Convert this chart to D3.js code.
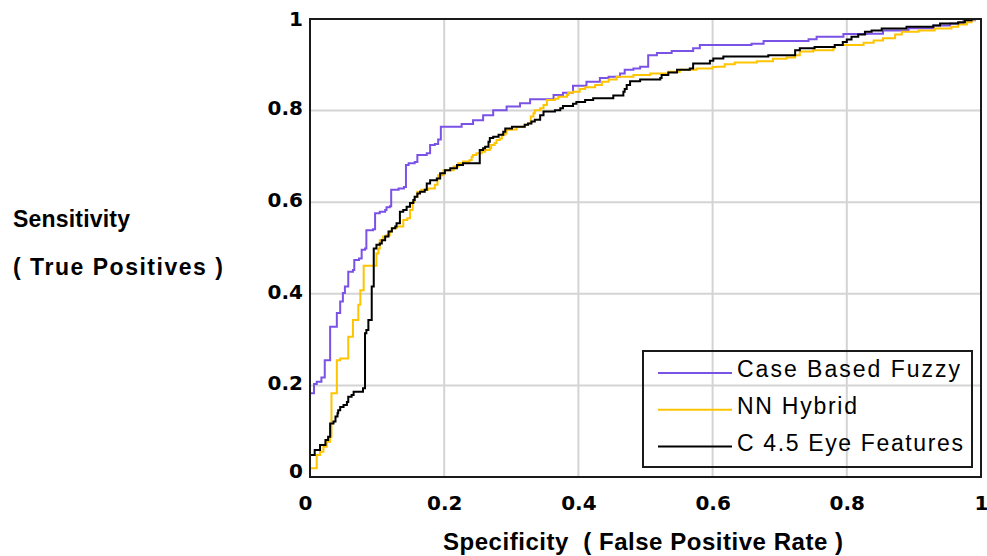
<!DOCTYPE html>
<html>
<head>
<meta charset="utf-8">
<script src="https://cdn.jsdelivr.net/npm/d3@7"></script>
<style>
  body { margin: 0; background: #fff; }
  .tick-label { font-family: 'DejaVu Sans', sans-serif; font-weight: bold; font-size: 20px; fill: #000; }
  .axis-title { font-family: 'Liberation Sans', Arial, sans-serif; font-weight: bold; fill: #000; white-space: pre; }
  .legend-text { font-family: 'Liberation Sans', Arial, sans-serif; font-size: 23px; fill: #000; }
</style>
</head>
<body>
<svg class="rocSvg"></svg>
<script>
// axis ticks
let ticks = [0, 0.2, 0.4, 0.6, 0.8, 1];
let tickLabels = ['0', '0.2', '0.4', '0.6', '0.8', '1'];

// series names, colours in legend order
let seriesNames = ['Case Based Fuzzy', 'NN Hybrid', 'C 4.5 Eye Features'];
let seriesColors = ['#7b52e6', '#ffc400', '#000000'];

// [false positive rate, true positive rate] at each step
let caseBasedFuzzy = [
  [0, 0.183], [0.006, 0.203], [0.01, 0.208], [0.017, 0.217], [0.022, 0.255],
  [0.03, 0.328], [0.04, 0.358], [0.045, 0.383], [0.049, 0.402], [0.052, 0.416],
  [0.057, 0.448], [0.064, 0.452], [0.066, 0.474], [0.073, 0.477], [0.077, 0.496],
  [0.082, 0.499], [0.084, 0.539], [0.094, 0.541], [0.097, 0.576], [0.104, 0.579],
  [0.112, 0.583], [0.114, 0.589], [0.119, 0.591], [0.121, 0.627], [0.132, 0.63],
  [0.14, 0.633], [0.143, 0.681], [0.147, 0.685], [0.156, 0.688], [0.16, 0.703],
  [0.174, 0.707], [0.179, 0.725], [0.186, 0.727], [0.191, 0.737], [0.195, 0.765],
  [0.226, 0.771], [0.243, 0.779], [0.258, 0.79], [0.273, 0.801], [0.293, 0.809],
  [0.313, 0.816], [0.328, 0.825], [0.363, 0.834], [0.377, 0.839], [0.392, 0.854],
  [0.412, 0.863], [0.432, 0.871], [0.445, 0.874], [0.462, 0.881], [0.469, 0.889],
  [0.482, 0.892], [0.492, 0.896], [0.504, 0.921], [0.517, 0.926], [0.539, 0.93],
  [0.571, 0.936], [0.581, 0.943], [0.658, 0.946], [0.676, 0.952], [0.743, 0.956],
  [0.755, 0.961], [0.795, 0.967], [0.83, 0.968], [0.854, 0.975], [0.892, 0.98],
  [0.929, 0.986], [0.954, 0.99], [0.974, 0.997], [0.991, 1], [1, 1]
];

let nnHybrid = [
  [0, 0.019], [0.01, 0.048], [0.015, 0.055], [0.02, 0.066], [0.025, 0.077],
  [0.03, 0.088], [0.032, 0.183], [0.04, 0.255], [0.045, 0.259], [0.057, 0.306],
  [0.064, 0.343], [0.072, 0.376], [0.075, 0.408], [0.08, 0.461], [0.099, 0.488],
  [0.102, 0.499], [0.104, 0.517], [0.109, 0.525], [0.114, 0.528], [0.119, 0.536],
  [0.122, 0.543], [0.129, 0.547], [0.139, 0.561], [0.145, 0.565], [0.149, 0.583],
  [0.153, 0.601], [0.156, 0.612], [0.16, 0.623], [0.166, 0.627], [0.176, 0.63],
  [0.186, 0.638], [0.19, 0.652], [0.191, 0.659], [0.199, 0.67], [0.214, 0.678],
  [0.221, 0.685], [0.228, 0.689], [0.238, 0.692], [0.241, 0.699], [0.243, 0.703],
  [0.248, 0.707], [0.256, 0.71], [0.261, 0.714], [0.268, 0.718], [0.27, 0.725],
  [0.275, 0.729], [0.278, 0.736], [0.283, 0.739], [0.286, 0.747], [0.291, 0.75],
  [0.293, 0.758], [0.301, 0.759], [0.308, 0.764], [0.315, 0.765], [0.32, 0.769],
  [0.325, 0.772], [0.329, 0.787], [0.333, 0.794], [0.335, 0.801], [0.343, 0.805],
  [0.348, 0.812], [0.353, 0.823], [0.365, 0.826], [0.37, 0.83], [0.383, 0.834],
  [0.385, 0.839], [0.392, 0.841], [0.402, 0.847], [0.41, 0.851], [0.425, 0.856],
  [0.435, 0.863], [0.445, 0.868], [0.457, 0.874], [0.482, 0.878], [0.507, 0.881],
  [0.534, 0.885], [0.551, 0.889], [0.576, 0.892], [0.6, 0.895], [0.606, 0.896],
  [0.618, 0.901], [0.633, 0.905], [0.666, 0.908], [0.69, 0.913], [0.71, 0.916],
  [0.723, 0.921], [0.73, 0.929], [0.75, 0.932], [0.78, 0.936], [0.782, 0.943],
  [0.825, 0.948], [0.84, 0.953], [0.854, 0.958], [0.872, 0.966], [0.882, 0.972],
  [0.907, 0.975], [0.931, 0.979], [0.956, 0.983], [0.966, 0.988], [0.979, 0.993],
  [0.986, 0.999], [0.991, 1], [1, 1]
];

let c45EyeFeatures = [
  [0, 0.048], [0.007, 0.059], [0.015, 0.07], [0.023, 0.081], [0.027, 0.088],
  [0.03, 0.117], [0.035, 0.121], [0.038, 0.132], [0.041, 0.139], [0.042, 0.146],
  [0.045, 0.153], [0.05, 0.157], [0.055, 0.164], [0.057, 0.175], [0.062, 0.179],
  [0.065, 0.186], [0.079, 0.194], [0.082, 0.314], [0.084, 0.321], [0.087, 0.343],
  [0.092, 0.416], [0.095, 0.499], [0.099, 0.507], [0.104, 0.51], [0.107, 0.517],
  [0.112, 0.525], [0.117, 0.536], [0.122, 0.543], [0.127, 0.547], [0.129, 0.554],
  [0.134, 0.579], [0.139, 0.583], [0.144, 0.59], [0.149, 0.598], [0.154, 0.605],
  [0.156, 0.612], [0.16, 0.619], [0.164, 0.623], [0.171, 0.627], [0.174, 0.641],
  [0.179, 0.648], [0.189, 0.652], [0.194, 0.663], [0.201, 0.67], [0.209, 0.674],
  [0.219, 0.681], [0.228, 0.685], [0.253, 0.714], [0.258, 0.718], [0.261, 0.721],
  [0.266, 0.732], [0.268, 0.74], [0.273, 0.743], [0.281, 0.747], [0.288, 0.754],
  [0.291, 0.761], [0.301, 0.765], [0.32, 0.769], [0.325, 0.772], [0.33, 0.776],
  [0.335, 0.78], [0.343, 0.79], [0.348, 0.798], [0.365, 0.801], [0.373, 0.805],
  [0.377, 0.81], [0.392, 0.815], [0.397, 0.819], [0.41, 0.823], [0.422, 0.827],
  [0.452, 0.833], [0.467, 0.841], [0.469, 0.847], [0.472, 0.856], [0.477, 0.864],
  [0.492, 0.868], [0.522, 0.871], [0.524, 0.878], [0.534, 0.883], [0.547, 0.889],
  [0.566, 0.892], [0.571, 0.903], [0.596, 0.909], [0.601, 0.914], [0.616, 0.918],
  [0.683, 0.921], [0.723, 0.932], [0.73, 0.936], [0.752, 0.939], [0.782, 0.943],
  [0.794, 0.95], [0.8, 0.955], [0.807, 0.961], [0.817, 0.966], [0.827, 0.972],
  [0.837, 0.975], [0.852, 0.979], [0.889, 0.983], [0.929, 0.986], [0.939, 0.99],
  [0.966, 0.993], [0.976, 0.997], [0.986, 1], [1, 1]
];

let allSeries = [caseBasedFuzzy, nnHybrid, c45EyeFeatures];

let width = 987;
let height = 556;
let margin = { top: 19, right: 6, bottom: 79, left: 310 };
let plotWidth = width - margin.left - margin.right;
let plotHeight = height - margin.top - margin.bottom;

let svg = d3.select('.rocSvg').attr('width', width).attr('height', height);

let xScale = d3.scaleLinear().domain([0, 1]).range([0, plotWidth]);
let yScale = d3.scaleLinear().domain([0, 1]).range([plotHeight, 0]);

let plot = svg
  .append('g')
  .attr('transform', `translate(${margin.left}, ${margin.top})`);

// grid lines
let inner = ticks.slice(1, -1);
plot
  .selectAll('.grid-x')
  .data(inner)
  .enter()
  .append('line')
  .classed('grid-x', true)
  .attr('x1', (d) => xScale(d))
  .attr('x2', (d) => xScale(d))
  .attr('y1', 0)
  .attr('y2', plotHeight)
  .attr('stroke', '#d4d4d4')
  .attr('stroke-width', 2);

plot
  .selectAll('.grid-y')
  .data(inner)
  .enter()
  .append('line')
  .classed('grid-y', true)
  .attr('x1', 0)
  .attr('x2', plotWidth)
  .attr('y1', (d) => yScale(d))
  .attr('y2', (d) => yScale(d))
  .attr('stroke', '#d4d4d4')
  .attr('stroke-width', 2);

// roc step lines
const line = d3
  .line()
  .x((d) => xScale(d[0]))
  .y((d) => yScale(d[1]))
  .curve(d3.curveStepAfter);

plot
  .selectAll('.roc')
  .data(allSeries)
  .enter()
  .append('path')
  .classed('roc', true)
  .attr('fill', 'none')
  .attr('stroke', (d, i) => seriesColors[i])
  .attr('stroke-width', 2)
  .attr('d', (d) => line(d));

// frame
plot
  .append('rect')
  .attr('width', plotWidth)
  .attr('height', plotHeight)
  .attr('fill', 'none')
  .attr('stroke', '#1a1a1a')
  .attr('stroke-width', 2);

// x axis labels
let xAxis = plot
  .append('g')
  .attr('transform', `translate(0,${plotHeight})`)
  .call(
    d3.axisBottom(xScale)
      .tickValues(ticks)
      .tickSize(0)
      .tickFormat((d, i) => tickLabels[i])
  );
xAxis.select('.domain').remove();
xAxis
  .selectAll('text')
  .attr('class', 'tick-label')
  .attr('y', 33)
  .attr('dy', 0)
  .attr('dx', (d) => (d === 0 ? -5 : 0));

// y axis labels
let yAxis = plot
  .append('g')
  .call(
    d3.axisLeft(yScale)
      .tickValues(ticks)
      .tickSize(0)
      .tickPadding(7)
      .tickFormat((d, i) => tickLabels[i])
  );
yAxis.select('.domain').remove();
yAxis
  .selectAll('text')
  .attr('class', 'tick-label')
  .attr('dy', (d) => (d === 0 ? '0em' : d === 1 ? '0.3em' : '0.21em'));

// axis titles
svg
  .append('text')
  .classed('axis-title', true)
  .attr('x', 443)
  .attr('y', 550)
  .style('font-size', '24px')
  .attr('textLength', 400)
  .attr('lengthAdjust', 'spacing')
  .text('Specificity  ( False Positive Rate )');

svg
  .append('text')
  .classed('axis-title', true)
  .attr('x', 13)
  .attr('y', 227)
  .style('font-size', '23px')
  .attr('textLength', 117)
  .attr('lengthAdjust', 'spacing')
  .text('Sensitivity');

svg
  .append('text')
  .classed('axis-title', true)
  .attr('x', 13)
  .attr('y', 275)
  .style('font-size', '23px')
  .attr('textLength', 210)
  .attr('lengthAdjust', 'spacing')
  .text('( True Positives )');

// legend
let legend = svg.append('g').attr('transform', 'translate(643, 351)');
legend
  .append('rect')
  .attr('width', 329)
  .attr('height', 116)
  .attr('fill', 'none')
  .attr('stroke', '#1a1a1a')
  .attr('stroke-width', 2);

let legendWidths = [223, 120, 226];
let rows = legend
  .selectAll('.legend-row')
  .data(seriesNames)
  .enter()
  .append('g')
  .classed('legend-row', true)
  .attr('transform', (d, i) => `translate(0, ${22 + i * 36.8})`);

rows
  .append('line')
  .attr('x1', 15)
  .attr('x2', 89)
  .attr('stroke', (d, i) => seriesColors[i])
  .attr('stroke-width', 2);

rows
  .append('text')
  .classed('legend-text', true)
  .attr('x', 94)
  .attr('y', 4)
  .attr('textLength', (d, i) => legendWidths[i])
  .attr('lengthAdjust', 'spacing')
  .text((d) => d);
</script>
</body>
</html>
